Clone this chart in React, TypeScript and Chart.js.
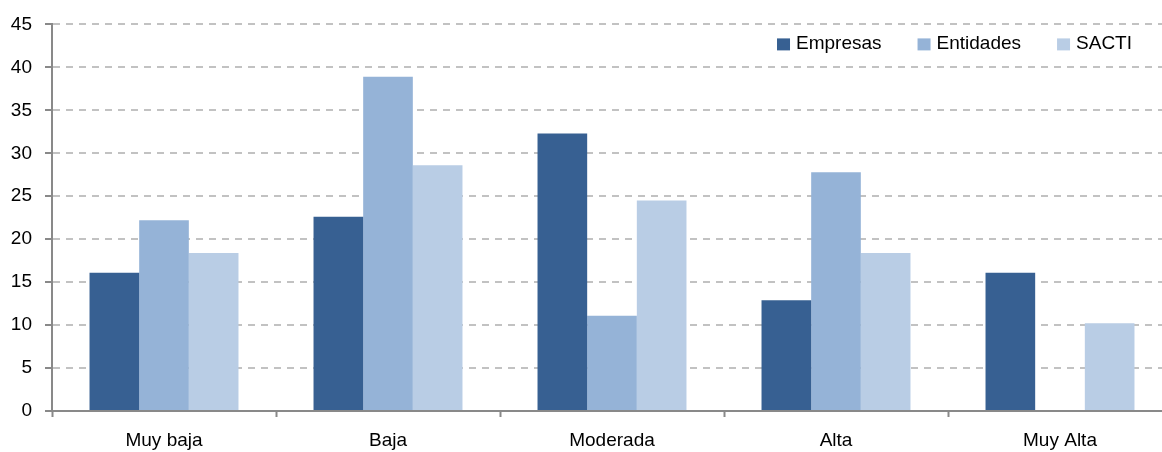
import React, { useEffect, useRef } from "react";
import { Chart, registerables } from "chart.js";

Chart.register(...registerables);

const categories = ["Muy baja", "Baja", "Moderada", "Alta", "Muy Alta"];
const seriesNames = ["Empresas", "Entidades", "SACTI"];
const empresas = [16.1, 22.6, 32.3, 12.9, 16.1];
const entidades = [22.2, 38.9, 11.1, 27.8, 0];
const sacti = [18.4, 28.6, 24.5, 18.4, 10.2];
const seriesColors = ["#376092", "#95B3D7", "#B9CDE5"];
const yTicks = [0, 5, 10, 15, 20, 25, 30, 35, 40, 45];

const FONT_FAMILY = '"Liberation Sans", Arial, sans-serif';

const legendPlugin = {
  id: "customLegend",
  afterDraw(chart: any) {
    const ctx = chart.ctx;
    const area = chart.chartArea;
    ctx.save();
    ctx.font = `19px ${FONT_FAMILY}`;
    ctx.textBaseline = "alphabetic";
    ctx.textAlign = "left";
    const box = 13;
    const gapBoxText = 6;
    const gapItems = 36;
    const items = chart.data.datasets.map((ds: any) => ({
      label: ds.label,
      color: ds.backgroundColor,
      w: ctx.measureText(ds.label).width,
    }));
    const total =
      items.reduce((s: number, it: any) => s + box + gapBoxText + it.w, 0) +
      gapItems * (items.length - 1);
    let x = area.right - 40 - total;
    const baseline = area.top + 25;
    for (const it of items) {
      ctx.fillStyle = it.color;
      ctx.fillRect(x, area.top + 14, box, 12);
      x += box + gapBoxText;
      ctx.fillStyle = "#000";
      ctx.fillText(it.label, x, baseline);
      x += it.w + gapItems;
    }
    ctx.restore();
  },
};

export default function App() {
  const canvasRef = useRef<HTMLCanvasElement | null>(null);

  useEffect(() => {
    if (!canvasRef.current) return;
    const data = [empresas, entidades, sacti];
    const chart = new Chart(canvasRef.current, {
      type: "bar",
      data: {
        labels: categories,
        datasets: seriesNames.map((name, i) => ({
          label: name,
          data: data[i],
          backgroundColor: seriesColors[i],
          borderWidth: 0,
          barPercentage: 1,
          categoryPercentage: 0.665,
        })),
      },
      options: {
        responsive: false,
        animation: false,
        devicePixelRatio: 1,
        layout: { padding: { left: 0, right: 8, top: 24, bottom: 0 } },
        plugins: {
          legend: { display: false },
          tooltip: { enabled: false },
        },
        scales: {
          x: {
            grid: {
              display: true,
              drawOnChartArea: false,
              drawTicks: true,
              tickLength: 6,
              tickColor: "#898989",
              tickWidth: 2,
              offset: true,
            },
            border: { display: true, color: "#898989", width: 2 },
            ticks: {
              color: "#000",
              padding: 12,
              font: { family: FONT_FAMILY, size: 19 },
              maxRotation: 0,
            },
            afterFit(scale: any) {
              scale.height = 41;
            },
          },
          y: {
            min: 0,
            max: 45,
            afterBuildTicks(scale: any) {
              scale.ticks = yTicks.map((v) => ({ value: v }));
            },
            grid: {
              color: (c: any) =>
                c.tick && c.tick.value === 0 ? "rgba(0,0,0,0)" : "#C2C2C2",
              lineWidth: 2,
              drawTicks: true,
              tickLength: 7,
              tickColor: "#898989",
              tickWidth: 2,
              tickBorderDash: [],
            },
            border: { display: true, color: "#898989", width: 2, dash: [7, 6] },
            ticks: {
              color: "#000",
              padding: 13,
              font: { family: FONT_FAMILY, size: 19 },
            },
            afterFit(scale: any) {
              scale.width = 52;
            },
          },
        },
      },
      plugins: [legendPlugin],
    });
    return () => chart.destroy();
  }, []);

  return (
    <div
      style={{
        position: "fixed",
        left: 0,
        top: 0,
        width: 1162,
        height: 452,
        overflow: "hidden",
        background: "#fff",
      }}
    >
      <canvas
        ref={canvasRef}
        width={1180}
        height={452}
        style={{ width: 1180, height: 452, display: "block" }}
      />
    </div>
  );
}
